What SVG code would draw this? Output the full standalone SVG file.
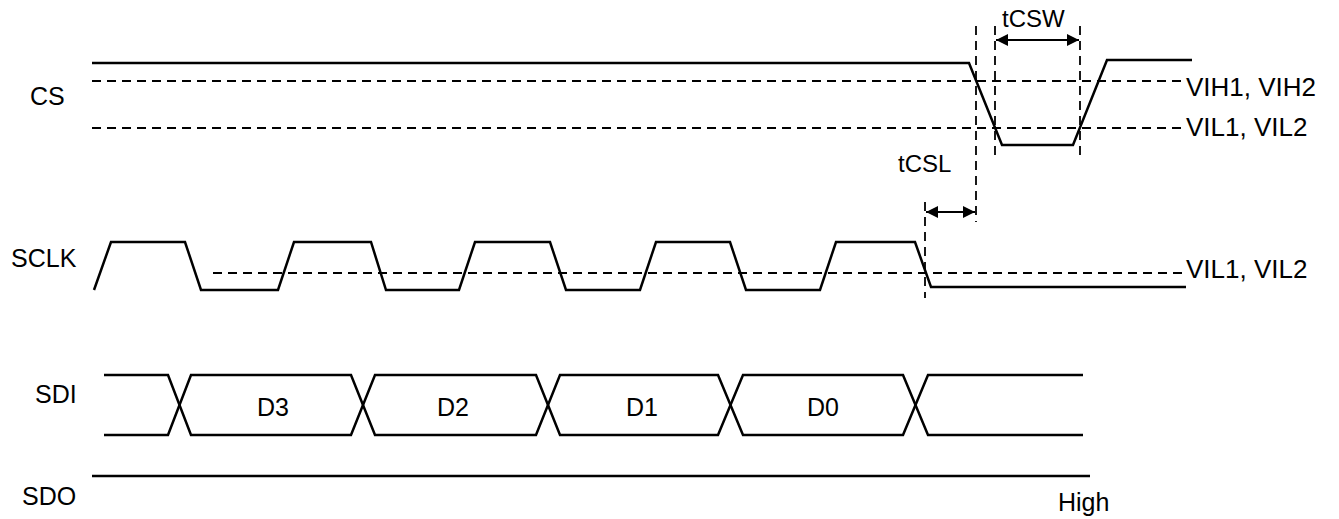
<svg xmlns="http://www.w3.org/2000/svg" width="1339" height="519" viewBox="0 0 1339 519">
<style>
.sig{fill:none;stroke:#000;stroke-width:2.5;stroke-linejoin:miter}
.dash{fill:none;stroke:#000;stroke-width:1.8;stroke-dasharray:9,6}
.arr{fill:none;stroke:#000;stroke-width:2.2;marker-start:url(#ah);marker-end:url(#ah)}
text{font-family:"Liberation Sans",Arial,sans-serif;font-size:25px;fill:#000}
.lvl{font-size:26px}
.tm{font-size:24px}
</style>
<defs>
<marker id="ah" viewBox="0 0 10 10" refX="10" refY="5" markerWidth="14" markerHeight="12" markerUnits="userSpaceOnUse" orient="auto-start-reverse">
<path d="M0,0 L10,5 L0,10 z" fill="#000"/>
</marker>
</defs>
<rect width="1339" height="519" fill="#fff"/>
<g id="labels">
<text x="30" y="105">CS</text>
<text x="11" y="267">SCLK</text>
<text x="35" y="403">SDI</text>
<text x="22" y="505">SDO</text>
<text class="lvl" x="1186" y="96">VIH1, VIH2</text>
<text class="lvl" x="1186" y="136">VIL1, VIL2</text>
<text class="lvl" x="1186" y="278">VIL1, VIL2</text>
<text class="tm" x="898" y="172">tCSL</text>
<text class="tm" x="1002" y="27">tCSW</text>
<text x="1058" y="511">High</text>
</g>
<g id="cs">
<line class="dash" x1="92" y1="81" x2="1184" y2="81"/>
<line class="dash" x1="92" y1="128" x2="1184" y2="128"/>
<polyline class="sig" points="92,63 969,63 1002,145 1073,145 1107,60 1192,60"/>
</g>
<g id="sclk">
<line class="dash" x1="213" y1="273" x2="1185" y2="273"/>
<polyline class="sig" points="94,290 111,242 185,242 201,290 278,290 294,242 371,242 386,290 459,290 475,242 550,242 566,290 640,290 656,242 730,242 746,290 820,290 836,242 915,242 931,287 1186,287"/>
</g>
<g id="sdi">
<polyline class="sig" points="104,375 168,375 191,435 351,435 375,375 536,375 560,435 718,435 743,375 903,375 928,435 1083,435"/>
<polyline class="sig" points="104,435 168,435 191,375 351,375 375,435 536,435 560,375 718,375 743,435 903,435 928,375 1083,375"/>
<text x="273" y="416" text-anchor="middle">D3</text>
<text x="453" y="416" text-anchor="middle">D2</text>
<text x="642" y="416" text-anchor="middle">D1</text>
<text x="823" y="416" text-anchor="middle">D0</text>
</g>
<g id="sdo">
<line class="sig" x1="92" y1="476" x2="1090" y2="476"/>
</g>
<g id="connectors">
<line class="dash" x1="976" y1="26" x2="976" y2="222"/>
<line class="dash" x1="995" y1="26" x2="995" y2="155"/>
<line class="dash" x1="1080" y1="26" x2="1080" y2="155"/>
<line class="dash" x1="925" y1="202" x2="925" y2="298"/>
<line class="arr" x1="996" y1="40" x2="1079" y2="40"/>
<line class="arr" x1="926" y1="212" x2="975" y2="212"/>
</g>
</svg>
